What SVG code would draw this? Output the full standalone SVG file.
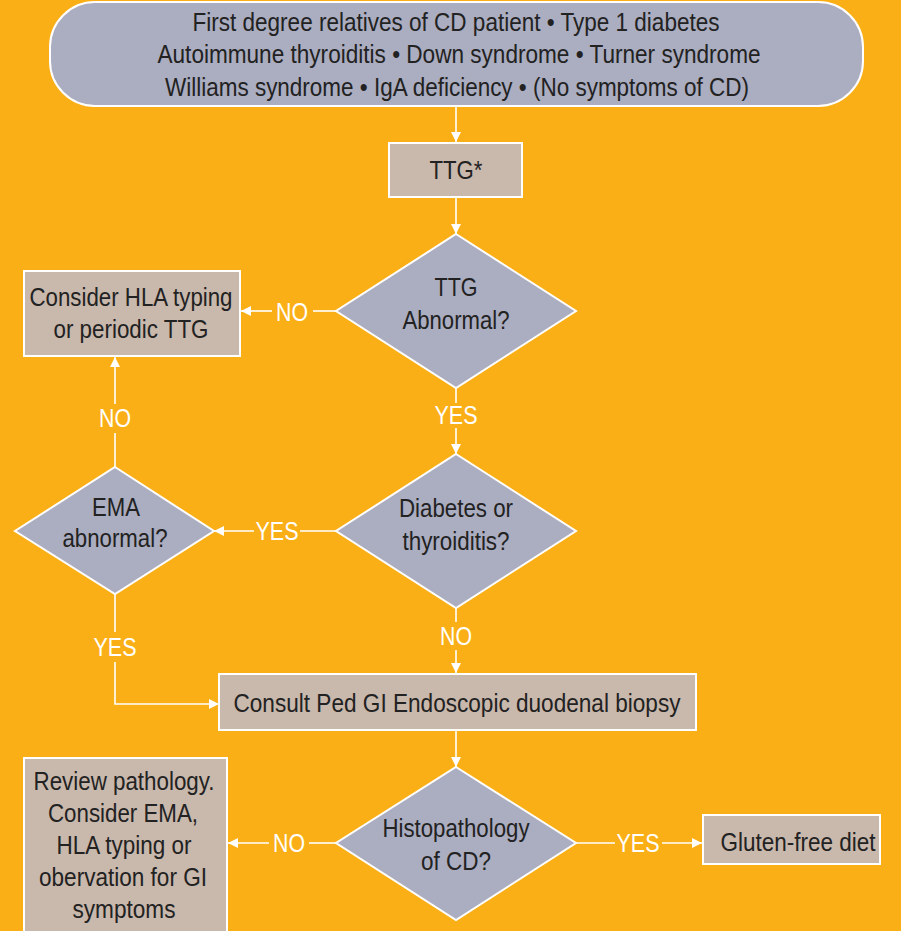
<svg xmlns="http://www.w3.org/2000/svg" width="901" height="931" viewBox="0 0 901 931">
<defs>
<marker id="ah" viewBox="0 0 10 10" refX="10" refY="5" markerWidth="14" markerHeight="10" markerUnits="userSpaceOnUse" orient="auto">
<path d="M0,0 L10,5 L0,10 z" fill="#ffffff"/>
</marker>
<style>
.bg{fill:#FBAF17}
.dia{fill:#ABADC0;stroke:#ffffff;stroke-width:2}
.box{fill:#C9B8AC;stroke:#ffffff;stroke-width:2}
.t{font-family:"Liberation Sans",Arial,sans-serif;font-size:25px;fill:#222222;text-anchor:middle}
.lbl{font-family:"Liberation Sans",Arial,sans-serif;font-size:26px;fill:#ffffff;text-anchor:middle}
.c{fill:none;stroke:#ffffff;stroke-width:1.6}
</style>
</defs>
<rect class="bg" x="0" y="0" width="901" height="931"/>

<g id="connectors">
<path class="c" d="M456,106 V142" marker-end="url(#ah)"/>
<path class="c" d="M456,197 V234" marker-end="url(#ah)"/>
<path class="c" d="M336,311 H313"/>
<path class="c" d="M272,311 H241" marker-end="url(#ah)"/>
<path class="c" d="M456,388 V403"/>
<path class="c" d="M456,428 V454" marker-end="url(#ah)"/>
<path class="c" d="M336,531 H300"/>
<path class="c" d="M254,531 H214" marker-end="url(#ah)"/>
<path class="c" d="M115,467 V433"/>
<path class="c" d="M115,404 V357" marker-end="url(#ah)"/>
<path class="c" d="M115,593 V632"/>
<path class="c" d="M115,662 V704 H219" marker-end="url(#ah)"/>
<path class="c" d="M456,608 V622"/>
<path class="c" d="M456,650 V673" marker-end="url(#ah)"/>
<path class="c" d="M456,730 V767" marker-end="url(#ah)"/>
<path class="c" d="M336,843 H309"/>
<path class="c" d="M269,843 H228" marker-end="url(#ah)"/>
<path class="c" d="M576,843 H615"/>
<path class="c" d="M662,843 H702" marker-end="url(#ah)"/>
<text class="lbl" x="292" y="321" textLength="32" lengthAdjust="spacingAndGlyphs">NO</text>
<text class="lbl" x="456" y="424" textLength="43" lengthAdjust="spacingAndGlyphs">YES</text>
<text class="lbl" x="277" y="540" textLength="43" lengthAdjust="spacingAndGlyphs">YES</text>
<text class="lbl" x="115" y="427" textLength="32" lengthAdjust="spacingAndGlyphs">NO</text>
<text class="lbl" x="115" y="656" textLength="43" lengthAdjust="spacingAndGlyphs">YES</text>
<text class="lbl" x="456" y="645" textLength="32" lengthAdjust="spacingAndGlyphs">NO</text>
<text class="lbl" x="289" y="852" textLength="32" lengthAdjust="spacingAndGlyphs">NO</text>
<text class="lbl" x="638" y="852" textLength="43" lengthAdjust="spacingAndGlyphs">YES</text>
</g>

<g id="start">
<rect class="dia" x="50" y="2" width="813" height="104" rx="45" ry="45"/>
<text class="t" x="456" y="31" textLength="527" lengthAdjust="spacingAndGlyphs">First degree relatives of CD patient • Type 1 diabetes</text>
<text class="t" x="459" y="63" textLength="603" lengthAdjust="spacingAndGlyphs">Autoimmune thyroiditis • Down syndrome • Turner syndrome</text>
<text class="t" x="457" y="96" textLength="584" lengthAdjust="spacingAndGlyphs">Williams syndrome • IgA deficiency • (No symptoms of CD)</text>
</g>

<g id="ttg">
<rect class="box" x="389" y="143" width="133" height="54"/>
<text class="t" x="456" y="179" textLength="53" lengthAdjust="spacingAndGlyphs">TTG*</text>
</g>

<g id="ttg-abnormal">
<polygon class="dia" points="456,234 576,311 456,388 336,311"/>
<text class="t" x="456" y="296" textLength="43" lengthAdjust="spacingAndGlyphs">TTG</text>
<text class="t" x="456" y="329" textLength="107" lengthAdjust="spacingAndGlyphs">Abnormal?</text>
</g>

<g id="hla">
<rect class="box" x="24" y="271" width="216" height="85"/>
<text class="t" x="131" y="306" textLength="203" lengthAdjust="spacingAndGlyphs">Consider HLA typing</text>
<text class="t" x="131" y="338" textLength="155" lengthAdjust="spacingAndGlyphs">or periodic TTG</text>
</g>

<g id="diabetes">
<polygon class="dia" points="456,454 576,531 456,608 336,531"/>
<text class="t" x="456" y="517" textLength="114" lengthAdjust="spacingAndGlyphs">Diabetes or</text>
<text class="t" x="456" y="550" textLength="107" lengthAdjust="spacingAndGlyphs">thyroiditis?</text>
</g>

<g id="ema">
<polygon class="dia" points="115,467 214,531 115,594 15,531"/>
<text class="t" x="116" y="516" textLength="48" lengthAdjust="spacingAndGlyphs">EMA</text>
<text class="t" x="115" y="547" textLength="105" lengthAdjust="spacingAndGlyphs">abnormal?</text>
</g>

<g id="consult">
<rect class="box" x="219" y="674" width="477" height="56"/>
<text class="t" x="457" y="712" textLength="447" lengthAdjust="spacingAndGlyphs">Consult Ped GI Endoscopic duodenal biopsy</text>
</g>

<g id="histo">
<polygon class="dia" points="456,767 576,843 456,920 336,843"/>
<text class="t" x="456" y="837" textLength="147" lengthAdjust="spacingAndGlyphs">Histopathology</text>
<text class="t" x="456" y="870" textLength="70" lengthAdjust="spacingAndGlyphs">of CD?</text>
</g>

<g id="review">
<rect class="box" x="24" y="758" width="203" height="180"/>
<text class="t" x="124" y="790" textLength="181" lengthAdjust="spacingAndGlyphs">Review pathology.</text>
<text class="t" x="123" y="822" textLength="150" lengthAdjust="spacingAndGlyphs">Consider EMA,</text>
<text class="t" x="124" y="854" textLength="135" lengthAdjust="spacingAndGlyphs">HLA typing or</text>
<text class="t" x="123" y="886" textLength="168" lengthAdjust="spacingAndGlyphs">obervation for GI</text>
<text class="t" x="124" y="918" textLength="103" lengthAdjust="spacingAndGlyphs">symptoms</text>
</g>

<g id="gluten">
<rect class="box" x="703" y="815" width="177" height="49"/>
<text class="t" x="798" y="851" textLength="155" lengthAdjust="spacingAndGlyphs">Gluten-free diet</text>
</g>
</svg>
